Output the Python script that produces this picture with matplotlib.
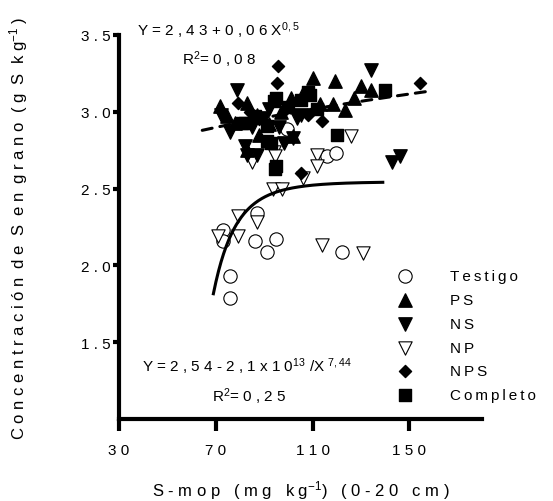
import numpy as np
import matplotlib.pyplot as plt

plt.rcParams['font.family'] = ['Liberation Sans', 'DejaVu Sans']
plt.rcParams['font.size'] = 11

# S-mop (mg/kg) vs S concentration in grain (g S/kg), per treatment
testigo_x = [73, 73, 87, 86, 95, 91, 76, 76, 122, 116, 119.5, 99.5]
testigo_y = [2.23, 2.16, 2.34, 2.16, 2.17, 2.09, 1.93, 1.79, 2.09, 2.71, 2.73, 2.89]

np_x = [79, 87, 71, 79, 114, 131, 126, 112, 112, 106, 93.7, 97.5, 85, 94, 94.5]
np_y = [2.32, 2.28, 2.19, 2.19, 2.13, 2.08, 2.84, 2.72, 2.65, 2.57, 2.50, 2.50, 2.67, 2.74, 2.71]

ps_x = [71.8, 74.7, 83, 83, 87, 101, 110, 119.4, 118.5, 123.5, 130, 134, 127, 102, 92,
        78, 88, 97, 106, 113]
ps_y = [3.04, 2.97, 3.06, 2.75, 2.98, 3.09, 3.22, 3.20, 3.05, 3.01, 3.17, 3.14, 3.09, 2.84, 2.92,
        2.93, 2.85, 3.00, 3.12, 3.05]

ns_x = [78.8, 134, 143, 146, 76, 102, 103.6, 82, 83, 90, 105, 72, 96, 85, 92, 98, 87]
ns_y = [3.14, 3.27, 2.67, 2.71, 2.87, 2.83, 2.96, 2.78, 2.72, 2.96, 2.98, 2.98, 2.90,
        2.90, 3.02, 2.80, 2.72]

nps_x = [95.8, 95.4, 154.5, 105.3, 114, 79, 88, 99, 84, 108]
nps_y = [3.30, 3.19, 3.19, 2.60, 2.94, 3.06, 2.95, 3.02, 3.00, 2.98]

comp_x = [140, 120, 95, 93, 82, 95, 105, 108, 81, 91, 91, 94, 109, 94.5, 86, 100, 112]
comp_y = [3.14, 2.85, 2.65, 2.80, 2.93, 3.09, 3.08, 3.13, 2.93, 2.81, 2.91, 3.07, 3.11, 2.63,
          2.97, 3.03, 3.02]

# fitted curves as drawn
fit1 = dict(a=2.43, b=0.056, xmin=64.4, xmax=159)
fit2 = dict(a=2.545, c=3.5e13, p=7.44, xmin=69, xmax=139)

xticks = [30, 70, 110, 150]
yticks = [1.5, 2.0, 2.5, 3.0, 3.5]


def sp(s, word='  '):
    # letter-spaced text like the original
    return word.join(' '.join(w) for w in s.split(' '))


def sp_thin(s):
    return '\u2009'.join(s)


fig = plt.figure(figsize=(5.53, 5.02), dpi=100)
ax = fig.add_axes([119/553, 1-420/502, 363/553, 384/502])

x1 = np.linspace(fit1['xmin'], fit1['xmax'], 200)
ax.plot(x1, fit1['a'] + fit1['b'] * np.sqrt(x1), color='black', lw=2.2,
        dashes=(3.3, 2.6), dash_capstyle='round', zorder=1)

ax.scatter(testigo_x, testigo_y, s=92, marker='o', facecolor='white',
           edgecolor='black', linewidth=0.8, zorder=2, label=sp_thin('Testigo'))
ax.scatter(ps_x, ps_y, s=92, marker='^', color='black', zorder=4, label=sp_thin('PS'))
ax.scatter(ns_x, ns_y, s=92, marker='v', color='black', zorder=4, label=sp_thin('NS'))
ax.scatter(np_x, np_y, s=92, marker='v', facecolor='white',
           edgecolor='black', linewidth=0.8, zorder=2, label=sp_thin('NP'))
ax.scatter(nps_x, nps_y, s=38, marker='D', color='black', zorder=4, label=sp_thin('NPS'))
ax.scatter(comp_x, comp_y, s=66, marker='s', color='black', zorder=4, label=sp_thin('Completo'))

x2 = np.linspace(fit2['xmin'], fit2['xmax'], 200)
ax.plot(x2, fit2['a'] - fit2['c'] / x2 ** fit2['p'], color='black', lw=2.2, zorder=3)

ax.set_xlim(30, 180)
ax.set_ylim(1.0, 3.5)
ax.set_xticks(xticks)
ax.set_xticklabels([sp(str(t)) for t in xticks])
ax.set_yticks(yticks)
ax.set_yticklabels([sp('%.1f' % t) for t in yticks])

for side in ['top', 'right']:
    ax.spines[side].set_visible(False)
for side in ['left', 'bottom']:
    ax.spines[side].set_linewidth(3)
ax.tick_params(axis='x', direction='out', length=8.6, width=3, pad=8.6)
ax.tick_params(axis='y', direction='out', length=4.3, width=3, pad=2)

ax.set_ylabel(sp('Concentración de S en grano (g S kg') + r'$\mathregular{^{-1}}$' + ' )',
              fontsize=12)
ax.yaxis.set_label_coords(-0.245, 0.5)
ax.set_xlabel(sp('S-mop (mg kg', '   ') + r'$\mathregular{^{-1}}$'
              + sp(') (0-20 cm)', '   '), fontsize=12)
ax.xaxis.set_label_coords(0.5, -0.155)

ax.text(0.049, 1.013, sp('Y=2,43+0,06X') + r'$\mathregular{^{0,5}}$',
        transform=ax.transAxes, ha='left', va='center')
ax.text(0.173, 0.9375, 'R' + r'$\mathregular{^{2}}$' + sp('=0,08'),
        transform=ax.transAxes, ha='left', va='center')
ax.text(0.063, 0.138, sp('Y=2,54-2,1x10') + r'$\mathregular{^{13}}$' + ' /X '
        + r'$\mathregular{^{7,44}}$',
        transform=ax.transAxes, ha='left', va='center')
ax.text(0.255, 0.06, 'R' + r'$\mathregular{^{2}}$' + sp('=0,25'),
        transform=ax.transAxes, ha='left', va='center')

ax.legend(loc='upper left', bbox_to_anchor=(383.5/553, 1-256/502),
          bbox_transform=fig.transFigure, frameon=False, handlelength=1.0,
          handletextpad=2.45, labelspacing=0.65, borderpad=0.4,
          scatterpoints=1, fontsize=11)

fig.savefig('out.png', dpi=100)
